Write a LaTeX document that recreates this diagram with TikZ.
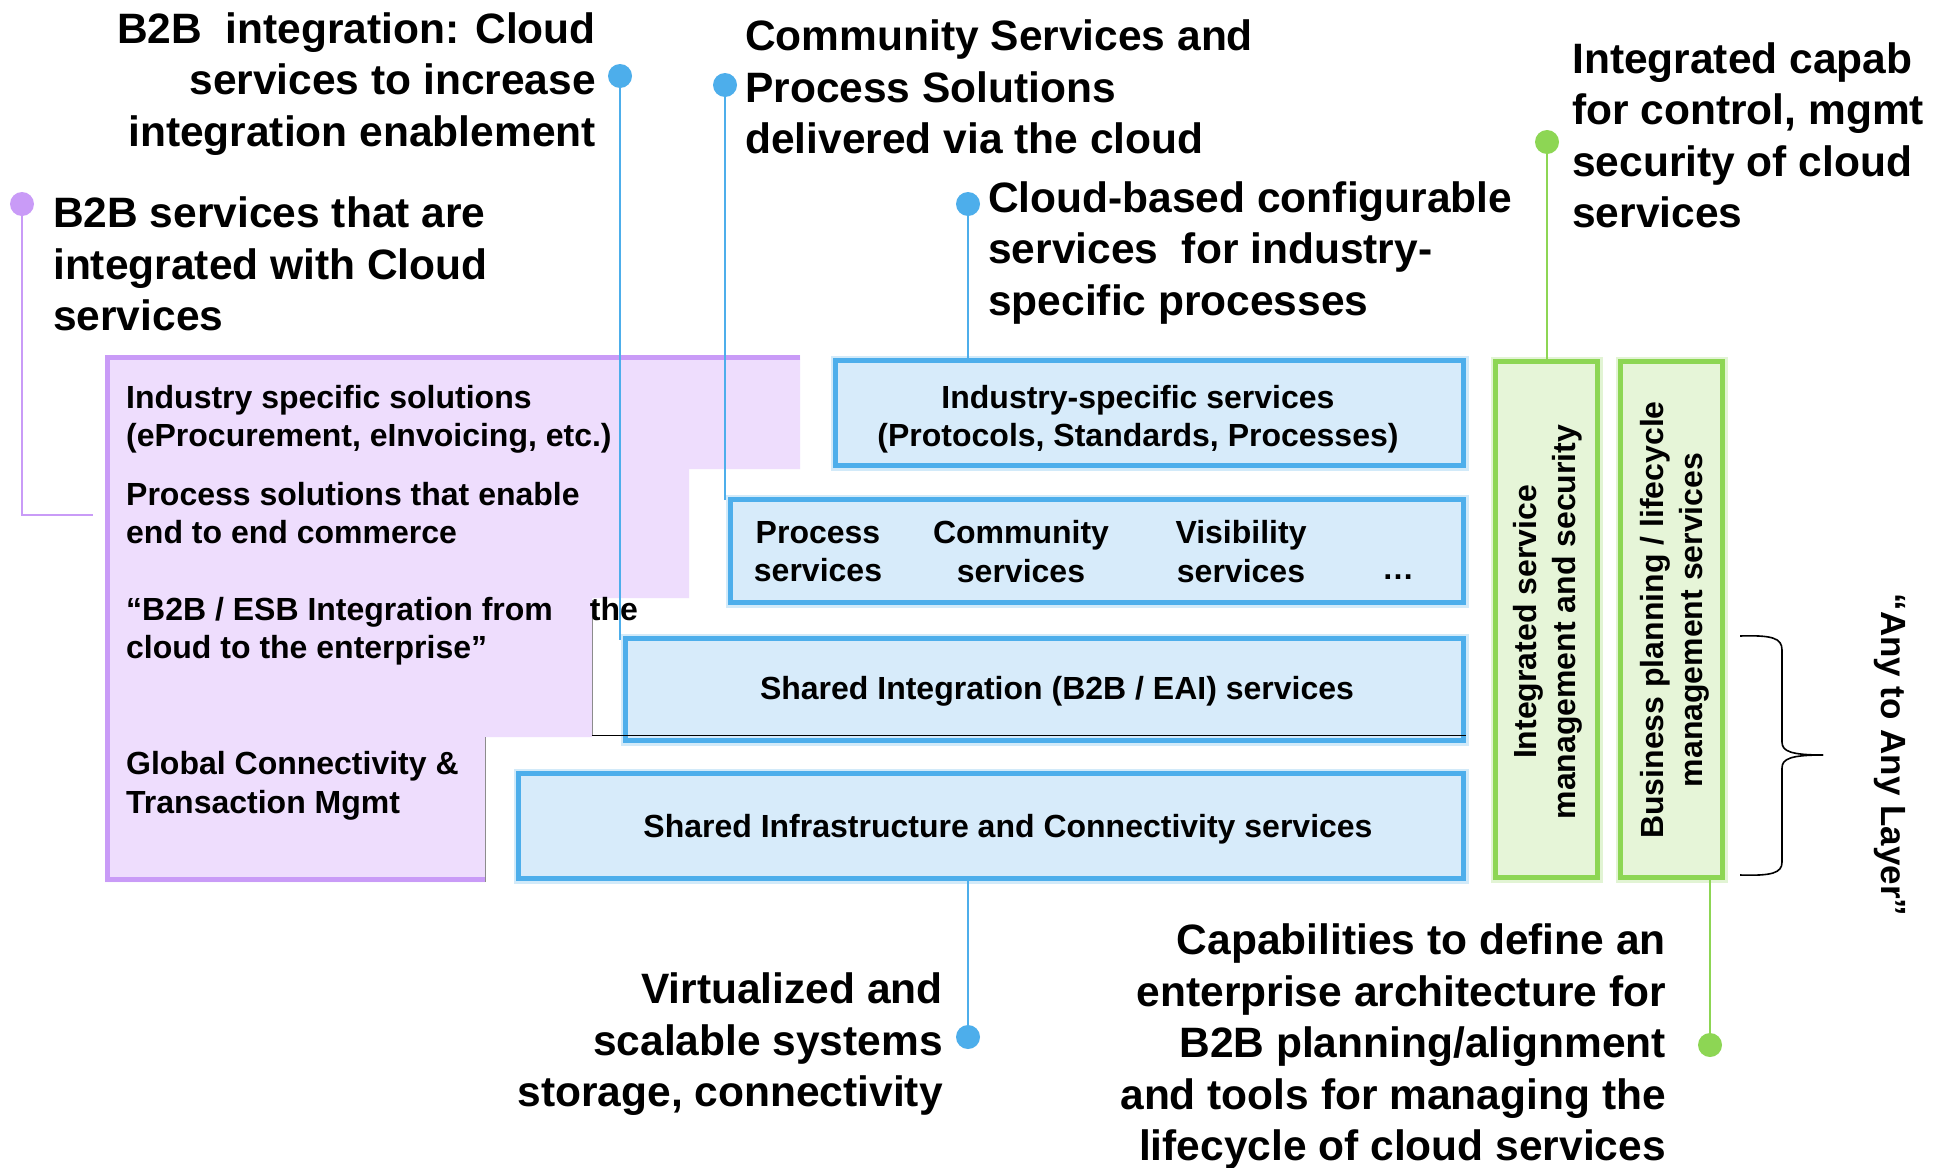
\documentclass[tikz,border=0pt]{standalone}
\usepackage{fontspec}
\setmainfont{Liberation Sans}
\definecolor{blueB}{HTML}{4DAEEB}
\definecolor{blueF}{HTML}{D7EBFA}
\definecolor{greenB}{HTML}{8DD654}
\definecolor{greenF}{HTML}{E6F5D8}
\definecolor{purpB}{HTML}{C99BF7}
\definecolor{purpF}{HTML}{EEDDFD}
\tikzset{
  bluebox/.style={draw=blueB, fill=blueF, line width=5pt, inner sep=0pt,
    preaction={draw=blueB, draw opacity=0.25, line width=10pt}},
  greenbox/.style={draw=greenB, fill=greenF, line width=5pt, inner sep=0pt,
    preaction={draw=greenB, draw opacity=0.25, line width=10pt}},
  big/.style={font=\fontsize{42.5}{51.5}\selectfont\bfseries, inner sep=0pt},
  small/.style={font=\fontsize{32}{38.5}\selectfont\bfseries, inner sep=0pt},
  dotb/.style={circle, fill=blueB, inner sep=0pt, minimum size=24pt},
  dotg/.style={circle, fill=greenB, inner sep=0pt, minimum size=24pt},
  dotp/.style={circle, fill=purpB, inner sep=0pt, minimum size=24pt},
  lineb/.style={draw=blueB, line width=2.5pt},
  lineg/.style={draw=greenB, line width=2.5pt},
  linep/.style={draw=purpB, line width=2.5pt},
}
\begin{document}
\begin{tikzpicture}[x=1pt,y=-1pt]
\useasboundingbox (0,0) rectangle (1935,1167);
\clip (0,0) rectangle (1935,1167);
\fill[white] (0,0) rectangle (1935,1167);

% purple stepped region
\fill[purpF] (105,355) -- (800,355) -- (800,469) -- (689,469) -- (689,598) -- (592,598)
  -- (592,737) -- (485,737) -- (485,882) -- (105,882) -- cycle;
\draw[purpB, line width=5pt] (800,357.5) -- (107.5,357.5) -- (107.5,879.5) -- (485,879.5);
\draw[black!45, line width=1pt] (592,600) -- (592,735);
\draw[black!45, line width=1pt] (485,737) -- (485,882);

% purple texts
\node[small, align=left, anchor=west] (p1) at (126,419.5) {Industry specific solutions\\(eProcurement, eInvoicing, etc.)};
\node[small, align=left, anchor=west] (p2) at (126,513) {Process solutions that enable\\end to end commerce};
\node[small, align=left, anchor=west] (p3) at (126,631) {“B2B / ESB Integration from\hspace{37pt}the\\cloud to the enterprise”};
\node[small, align=left, anchor=west] (p4) at (126,786) {Global Connectivity \&\\Transaction Mgmt};

% dots
\node[dotp] (dp) at (22,204) {};
\node[dotb] (d2) at (620,76) {};
\node[dotb] (d3) at (725,85) {};
\node[dotb] (d4) at (968,204) {};
\node[dotg] (d5) at (1547,142) {};
\node[dotb] (d6) at (968,1037) {};
\node[dotg] (d7) at (1710,1045) {};
\coordinate (pend) at (93,515);

% box centres
\path (1149.5,413) coordinate (cind) (1097,551) coordinate (cproc)
      (1044.5,689.5) coordinate (cshint) (991,826) coordinate (cshinf)
      (1546.5,619.5) coordinate (cism) (1671.5,619.5) coordinate (cbpl);

% callout lines
\draw[linep] (dp) -- (dp |- pend) -- (pend);
\draw[lineb] (d2) -- (620,640);
\draw[lineb] (d3) -- (725,500);
\draw[lineb] (d4) -- (968,362);
\draw[lineg] (d5) -- (1547,362);
\draw[lineb] (d6) -- (968,878);
\draw[lineg] (d7) -- (1710,878);

% blue boxes
\node[bluebox, minimum width=628pt, minimum height=105pt] (ind) at (cind) {};
\node[bluebox, minimum width=733pt, minimum height=103pt] (proc) at (cproc) {};
\node[bluebox, minimum width=838pt, minimum height=102pt] (shint) at (cshint) {};
\node[bluebox, minimum width=945pt, minimum height=105pt] (shinf) at (cshinf) {};
\draw[black, line width=1pt] (592,735) -- (1466,735);

% green boxes
\node[greenbox, minimum width=102pt, minimum height=516pt] (ism) at (cism) {};
\node[greenbox, minimum width=102pt, minimum height=516pt] (bpl) at (cbpl) {};

% box texts
\node[small, align=center] (tind) at (1138,419) {Industry-specific services\\(Protocols, Standards, Processes)};
\node[small, align=center] (tproc) at (818,551.5) {Process\\services};
\node[small, align=center] (tcomm) at (1021,551.5) {Community\\services};
\node[small, align=center] (tvis) at (1241,551.5) {Visibility\\services};
\node[small, anchor=base] (tdots) at (1398,579) {…};
\node[small] (tshint) at (1057,691.5) {Shared Integration (B2B / EAI) services};
\node[small] (tshinf) at (1008,829.5) {Shared Infrastructure and Connectivity services};
\node[small, align=center, rotate=90] (tism) at (1548,622) {Integrated service\\management and security};
\node[small, align=center, rotate=90] (tbpl) at (1675,620) {Business planning / lifecycle\\management services};

% brace
\draw[line width=1.6pt] (1740,636) .. controls (1772,635) and (1782,638) .. (1782,650) -- (1782,742)
  .. controls (1782,751) and (1790,755) .. (1823,755);
\draw[line width=1.6pt] (1823,755) .. controls (1790,755) and (1782,759) .. (1782,768) -- (1782,862)
  .. controls (1782,873) and (1772,876) .. (1740,875);
\node[font=\fontsize{35}{42}\selectfont\bfseries, inner sep=0pt, rotate=-90] (any) at (1890,755) {“Any to Any Layer”};

% callout texts
\node[big, align=left, anchor=west] (t1) at (53,264) {B2B services that are\\integrated with Cloud\\services};
\node[big, align=right, anchor=east] (t2) at (596,84) {B2B~ integration: Cloud\\services to increase\\integration enablement};
\node[big, align=left, anchor=west] (t3) at (745,87) {Community Services and\\Process Solutions\\delivered via the cloud};
\node[big, align=left, anchor=west] (t4) at (988,253) {Cloud-based configurable\\services~ for industry-\\specific processes};
\node[big, align=left, anchor=west] (t5) at (1572,135.5) {Integrated capab\\for control, mgmt\\security of cloud\\services};
\node[big, align=right, anchor=east] (t6) at (943,1044.5) {Virtualized and\\scalable systems\\storage, connectivity};
\node[big, align=right, anchor=east] (t7) at (1666,1046.5) {Capabilities to define an\\enterprise architecture for\\B2B planning/alignment\\and tools for managing the\\lifecycle of cloud services};
\end{tikzpicture}
\end{document}
